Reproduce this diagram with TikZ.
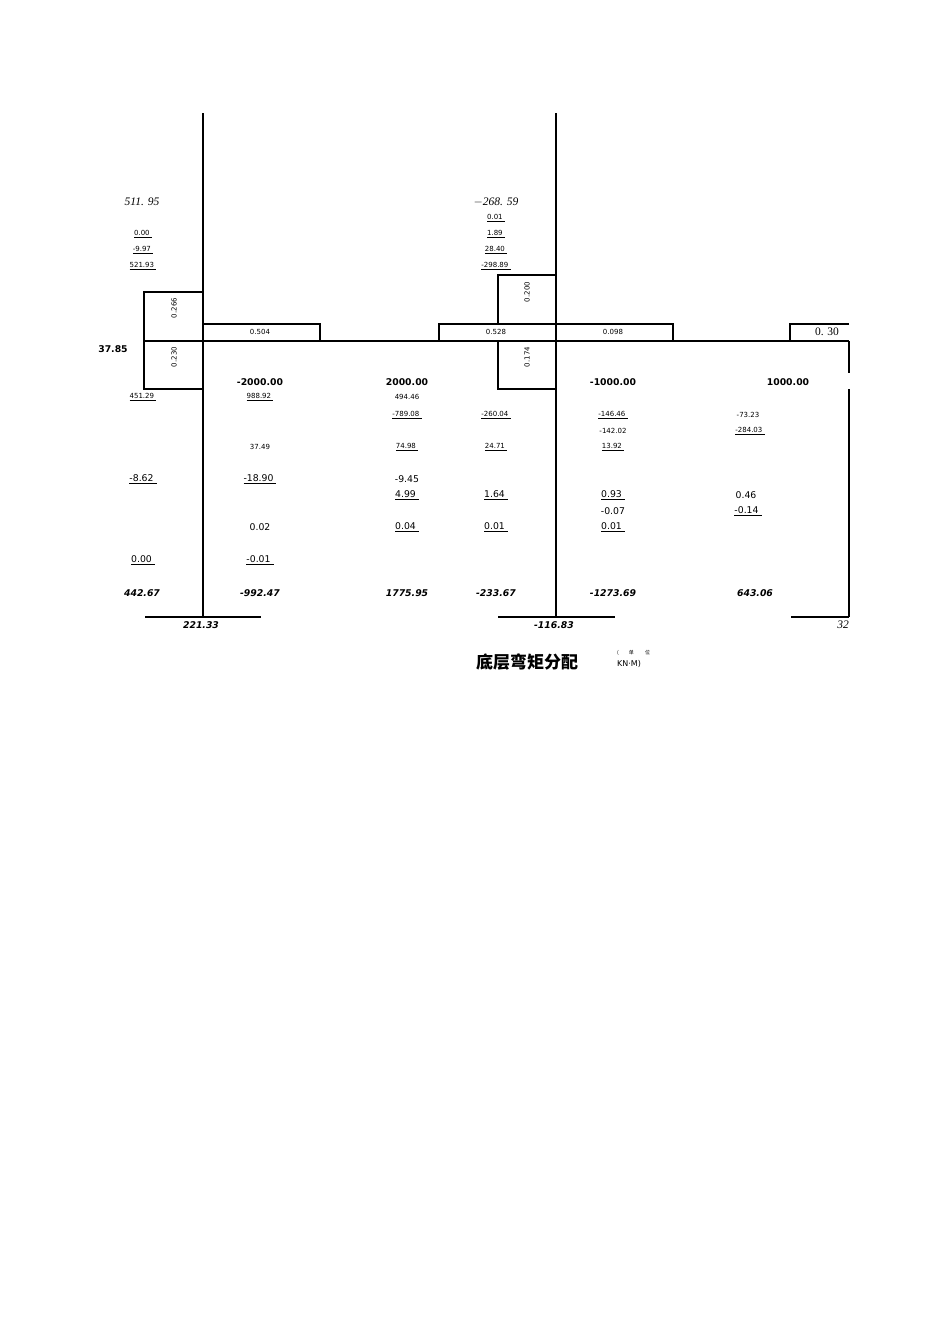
\documentclass[tikz,border=0pt]{standalone}
\usepackage{fontspec}
\setmainfont{DejaVu Sans}
\newfontfamily\serf{Liberation Serif}
\newfontfamily\cjk{Noto Sans CJK SC}
\begin{document}
\begin{tikzpicture}[x=1pt,y=-1pt,
  ln/.style={line width=1.2pt},
  sm/.style={font=\fontsize{7}{8}\selectfont,inner sep=0pt},
  md/.style={font=\fontsize{9.3}{10}\selectfont,inner sep=0pt},
  bd/.style={font=\fontsize{9.3}{10}\selectfont\bfseries,inner sep=0pt},
  bi/.style={font=\fontsize{9.3}{10}\selectfont\bfseries\itshape,inner sep=0pt},
  si/.style={font=\fontsize{11.5}{12}\selectfont\serf\itshape,inner sep=0pt},
  rt/.style={sm,rotate=90}]
\useasboundingbox (0,0) rectangle (950,1344);
\newcommand{\ul}[1]{\underline{#1\ }}
% frame
\draw[ln] (203,113) -- (203,617);
\draw[ln] (556,113) -- (556,617);
\draw[ln] (203,341) -- (849,341);
\draw[ln] (849,341) -- (849,373);
\draw[ln] (849,389) -- (849,617);
\draw[ln] (203,292) -| (144,389) -- (203,389);
\draw[ln] (144,341) -- (203,341);
\draw[ln] (203,324) -| (320,341);
\draw[ln] (439,341) |- (556,324) -| (673,341);
\draw[ln] (556,275) -| (498,324);
\draw[ln] (498,341) |- (556,389);
\draw[ln] (849,324) -| (790,341);
\draw[ln] (145,617) -- (261,617);
\draw[ln] (498,617) -- (615,617);
\draw[ln] (791,617) -- (849,617);
% column 1 left
\node[si] (a1) at (142,202) {511. 95};
\node[sm] (a2) at (143,234) {\ul{0.00}};
\node[sm] (a3) at (143,250) {\ul{-9.97}};
\node[sm] (a4) at (143,266) {\ul{521.93}};
\node[bd] (a5) at (113,349) {37.85};
\node[rt] (a6) at (174,308) {0.266};
\node[rt] (a7) at (174,357) {0.230};
\node[sm] (a8) at (143,397) {\ul{451.29}};
\node[md] (a9) at (143,479) {\ul{-8.62}};
\node[md] (a10) at (143,560) {\ul{0.00}};
\node[bi] (a11) at (142,593) {442.67};
\node[bi] (a12) at (201,625) {221.33};
% span 1 left
\node[sm] (b1) at (260,332) {0.504};
\node[bd] (b2) at (260,382) {-2000.00};
\node[sm] (b3) at (260,397) {\ul{988.92}};
\node[sm] (b4) at (260,447) {37.49};
\node[md] (b5) at (260,479) {\ul{-18.90}};
\node[md] (b6) at (260,527) {0.02};
\node[md] (b7) at (260,560) {\ul{-0.01}};
\node[bi] (b8) at (260,593) {-992.47};
% span 1 right
\node[bd] (c1) at (407,382) {2000.00};
\node[sm] (c2) at (407,397) {494.46};
\node[sm] (c3) at (407,415) {\ul{-789.08}};
\node[sm] (c4) at (407,447) {\ul{74.98}};
\node[md] (c5) at (407,479) {-9.45};
\node[md] (c6) at (407,495) {\ul{4.99}};
\node[md] (c7) at (407,527) {\ul{0.04}};
\node[bi] (c8) at (407,593) {1775.95};
% column 2
\node[si] (d1) at (496,202) {\(-\)268. 59};
\node[sm] (d2) at (496,218) {\ul{0.01}};
\node[sm] (d3) at (496,234) {\ul{1.89}};
\node[sm] (d4) at (496,250) {\ul{28.40}};
\node[sm] (d5) at (496,266) {\ul{-298.89}};
\node[rt] (d6) at (527,292) {0.200};
\node[sm] (d7) at (496,332) {0.528};
\node[rt] (d8) at (527,357) {0.174};
\node[sm] (d9) at (496,415) {\ul{-260.04}};
\node[sm] (d10) at (496,447) {\ul{24.71}};
\node[md] (d11) at (496,495) {\ul{1.64}};
\node[md] (d12) at (496,527) {\ul{0.01}};
\node[bi] (d13) at (496,593) {-233.67};
\node[bi] (d14) at (554,625) {-116.83};
% span 2 left
\node[sm] (e1) at (613,332) {0.098};
\node[bd] (e2) at (613,382) {-1000.00};
\node[sm] (e3) at (613,415) {\ul{-146.46}};
\node[sm] (e4) at (613,431) {-142.02};
\node[sm] (e5) at (613,447) {\ul{13.92}};
\node[md] (e6) at (613,495) {\ul{0.93}};
\node[md] (e7) at (613,511) {-0.07};
\node[md] (e8) at (613,527) {\ul{0.01}};
\node[bi] (e9) at (613,593) {-1273.69};
% span 2 right
\node[bd] (f1) at (788,382) {1000.00};
\node[sm] (f2) at (748,415) {-73.23};
\node[sm] (f3) at (750,431) {\ul{-284.03}};
\node[md] (f4) at (746,495) {0.46};
\node[md] (f5) at (748,511) {\ul{-0.14}};
\node[bi] (f6) at (755,593) {643.06};
\node[font=\fontsize{11.5}{12}\selectfont\serf,inner sep=0pt] (f7) at (827,332) {0. 30};
\node[si,anchor=east] (f8) at (849,625) {32};
% title
\node[font=\fontsize{17}{18}\selectfont\cjk\bfseries,inner sep=0pt] (t1) at (527,662) {底层弯矩分配};
\node[font=\fontsize{5}{5}\selectfont\cjk,inner sep=0pt,anchor=west] (t2) at (617,653) {(\qquad 单 \qquad 位};
\node[font=\fontsize{8}{8}\selectfont,inner sep=0pt,anchor=west] (t3) at (617,664) {KN·M)};
\end{tikzpicture}
\end{document}
